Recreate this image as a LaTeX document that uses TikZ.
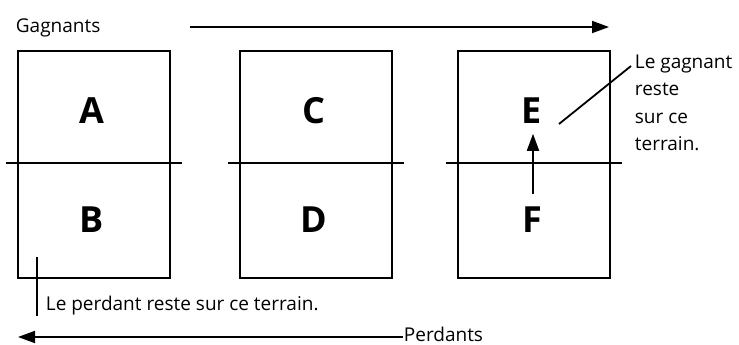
\documentclass[tikz,border=0pt]{standalone}
\usepackage{fontspec}
\setmainfont{Open Sans}
\usetikzlibrary{arrows.meta, positioning, calc}

\begin{document}
\begin{tikzpicture}[x=1pt, y=-1pt, line width=1.8pt,
  court/.style={draw, minimum width=152pt, minimum height=227pt, inner sep=0pt},
  team/.style={font=\fontsize{36}{36}\selectfont\bfseries, inner sep=0pt},
  lbl/.style={font=\fontsize{19}{27.5}\selectfont, inner sep=0pt, anchor=west},
  tip/.style={-{Triangle[length=17pt, width=12pt]}}]
\useasboundingbox (0,0) rectangle (739,345);
% les trois terrains
\foreach \n/\cx/\up/\dn in {1/94/A/B, 2/316/C/D, 3/534/E/F} {
  \node[court] (c\n) at (\cx,164.5) {};
  \draw ($(c\n.west)+(-11,-1.5)$) -- ($(c\n.east)+(11,-1.5)$);
  \node[team] (\up) at (\cx-2,111) {\up};
  \node[team] (\dn) at (\cx-2,220) {\dn};
}
% gagnants
\node[lbl] (gag) at (15,28) {Gagnants};
\coordinate (g1) at (190,27);
\coordinate (g2) at (609,27);
\draw[tip] (g1) -- (g2);
\node[lbl, anchor=north west, align=left] (reste) at (634,54) {Le gagnant\\reste\\sur ce\\terrain.};
\coordinate (e1) at (559,124);
\draw (e1) -- ($(reste.north west)+(-3,12)$);
\draw[tip] ($(F.north)+(1,-12)$) -- ($(E.south)+(1,9)$);
% perdants
\coordinate (p1) at (37,257);
\coordinate (p2) at (37,316);
\draw (p1) -- (p2);
\node[lbl] (perd) at (45,306) {Le perdant reste sur ce terrain.};
\node[lbl] (perdants) at (403,334) {Perdants};
\draw[tip] ($(perdants.west)+(0,3)$) -- (18,337);
\end{tikzpicture}
\end{document}
